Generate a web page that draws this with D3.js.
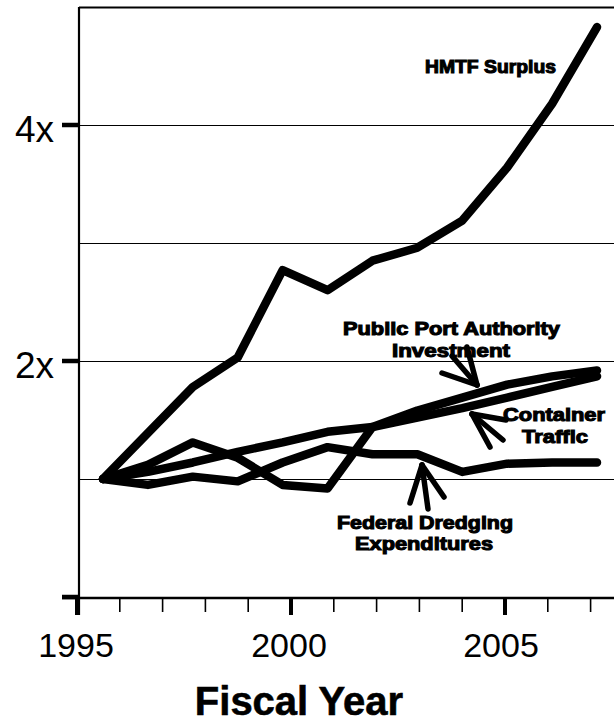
<!DOCTYPE html>
<html>
<head>
<meta charset="utf-8">
<script src="https://cdn.jsdelivr.net/npm/d3@7"></script>
<style>
  html, body { margin: 0; padding: 0; background: #fff; }
  svg { display: block; }
  text { font-family: "Liberation Sans", Arial, sans-serif; fill: #000; }
</style>
</head>
<body>
<svg id="chart" width="614" height="723"></svg>
<script>
// ---- data (multiples of 1995 level) ----
const fiscalYears = [1996, 1997, 1998, 1999, 2000, 2001, 2002, 2003, 2004, 2005, 2006, 2007];
const hmtfSurplus   = [1.00, 1.39, 1.78, 2.03, 2.77, 2.60, 2.85, 2.96, 3.19, 3.64, 4.18, 4.83];
const portInvest    = [1.00, 1.12, 1.31, 1.18, 0.95, 0.92, 1.44, 1.58, 1.69, 1.80, 1.87, 1.92];
const containerTraf = [1.00, 1.06, 1.14, 1.23, 1.31, 1.40, 1.44, 1.52, 1.60, 1.69, 1.78, 1.87];
const dredgingExp   = [1.00, 0.95, 1.02, 0.98, 1.14, 1.27, 1.21, 1.21, 1.06, 1.13, 1.14, 1.14];
const axisYears = d3.range(1995, 2008);
const majorYears = [1995, 2000, 2005];
const yTickValues = [0, 2, 4];
const yTickLabels = ["", "2x", "4x"];
const gridValues = [1, 2, 3, 4, 5];

const svg = d3.select("#chart");
const W = 614;

const xAxisScale = d3.scaleLinear().domain([1995, 2007.5]).range([77, 77 + 12.5 * 42.8]);
const xData = d3.scaleLinear().domain([1996, 2007]).range([103, 597]);
const y = d3.scaleLinear().domain([0, 5]).range([597, 7]);

// gridlines
svg.append("g").selectAll("line").data(gridValues).join("line")
  .attr("x1", 79).attr("x2", W)
  .attr("y1", d => Math.round(y(d)) + 0.5).attr("y2", d => Math.round(y(d)) + 0.5)
  .attr("stroke", "#000").attr("stroke-width", d => d === 5 ? 2 : 1.2);

// y axis line
svg.append("line").attr("x1", 79).attr("x2", 79).attr("y1", y(5)).attr("y2", 615)
  .attr("stroke", "#000").attr("stroke-width", 2.2);
// x axis line
svg.append("line").attr("x1", 62).attr("x2", W).attr("y1", 598).attr("y2", 598)
  .attr("stroke", "#000").attr("stroke-width", 2.4);

// y ticks + labels
svg.append("g").selectAll("line").data(yTickValues).join("line")
  .attr("x1", 62).attr("x2", 80)
  .attr("y1", d => y(d)).attr("y2", d => y(d))
  .attr("stroke", "#000").attr("stroke-width", 4.5);
svg.append("g").selectAll("text").data(yTickValues).join("text")
  .attr("x", 54).attr("y", d => y(d) + 17)
  .attr("text-anchor", "end")
  .attr("font-size", 37)
  .text((d, i) => yTickLabels[i]);

// x ticks
svg.append("g").selectAll("line").data(axisYears).join("line")
  .attr("x1", d => xAxisScale(d)).attr("x2", d => xAxisScale(d))
  .attr("y1", 598).attr("y2", d => majorYears.includes(d) ? 615 : 612)
  .attr("stroke", "#000").attr("stroke-width", d => majorYears.includes(d) ? 4 : 1.6);
svg.append("g").selectAll("text").data(majorYears).join("text")
  .attr("x", d => xAxisScale(d) + (d === 1995 ? -1 : d === 2000 ? -2 : -4))
  .attr("y", 657)
  .attr("text-anchor", "middle")
  .attr("font-size", 34)
  .text(d => d);

svg.append("text").attr("x", 299).attr("y", 715)
  .attr("text-anchor", "middle").attr("font-size", 40).attr("font-weight", "bold")
  .attr("stroke", "#000").attr("stroke-width", 0.6)
  .text("Fiscal Year");

// lines
const line = d3.line().x((d, i) => xData(fiscalYears[i])).y(d => y(d));
[hmtfSurplus, dredgingExp, containerTraf, portInvest].forEach(s => {
  svg.append("path").datum(s).attr("d", line)
    .attr("fill", "none").attr("stroke", "#000")
    .attr("stroke-width", 8.5).attr("stroke-linejoin", "round").attr("stroke-linecap", "round");
});

// annotation labels
const labels = [
  { t: "HMTF Surplus", x: 425, y: 73, w: 131 },
  { t: "Public Port Authority", x: 343, y: 335, w: 217 },
  { t: "Investment", x: 392, y: 357, w: 118 },
  { t: "Container", x: 503, y: 421, w: 102 },
  { t: "Traffic", x: 522, y: 443, w: 66 },
  { t: "Federal Dredging", x: 337, y: 529, w: 176 },
  { t: "Expenditures", x: 355, y: 550, w: 138 }
];
svg.append("g").selectAll("text").data(labels).join("text")
  .attr("x", d => d.x).attr("y", d => d.y)
  .attr("font-size", 18.5).attr("font-weight", "bold")
  .attr("stroke", "#000").attr("stroke-width", 1.1)
  .attr("textLength", d => d.w).attr("lengthAdjust", "spacingAndGlyphs")
  .text(d => d.t);

// arrows (tip, then the three strokes radiating from it)
const arrows = [
  { tip: [477, 385], ends: [[467, 347], [452, 356], [442, 373]] },
  { tip: [472, 414], ends: [[490, 447], [503, 440], [506, 420]] },
  { tip: [422, 465], ends: [[410, 503], [428, 509], [444, 497]] }
];
arrows.forEach(a => {
  svg.append("g").selectAll("line").data(a.ends).join("line")
    .attr("x1", a.tip[0]).attr("y1", a.tip[1])
    .attr("x2", d => d[0]).attr("y2", d => d[1])
    .attr("stroke", "#000").attr("stroke-width", 5.5).attr("stroke-linecap", "round");
});
</script>
</body>
</html>
